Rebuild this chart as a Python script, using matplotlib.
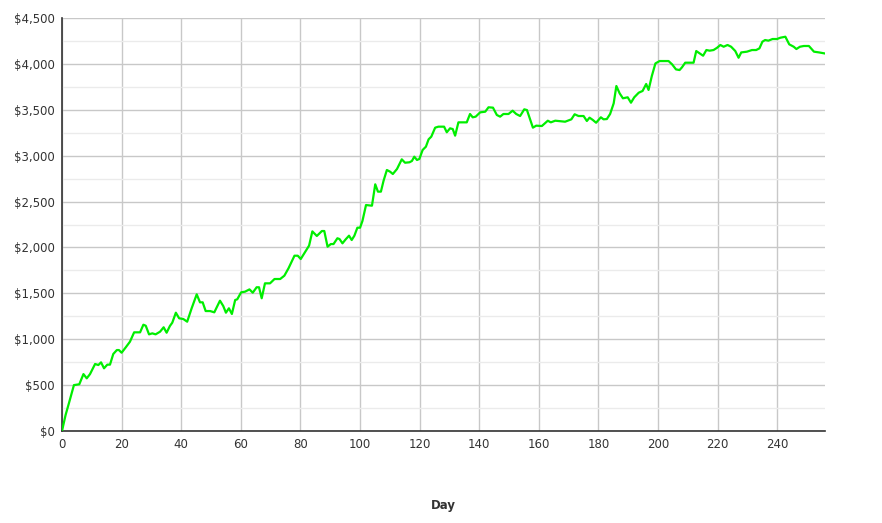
import matplotlib
matplotlib.use("Agg")
import matplotlib.pyplot as plt
from matplotlib.ticker import MultipleLocator, FuncFormatter

# ---- data ----------------------------------------------------------------------
days = [0, 1.2, 2.3, 4, 5.8, 7.2, 8.3, 9.4, 11.1, 12.2, 13.1, 14.1, 15.2, 16.1,
        17.2, 18.4, 19.1, 20.0, 21.4, 22.8, 24.2, 26.2, 27.3, 28.1, 29.2, 30.3,
        31.4, 32.9, 34.1, 35.1, 36.2, 37.0, 38.2, 39.3, 40.7, 42.0, 43.5, 45.2,
        46.3, 47.2, 48.2, 49.7, 51.1, 53.0, 54.1, 55.0, 56.0, 57.0, 58.1, 58.8,
        60.1, 61.4, 62.9, 64.0, 65.3, 66.1, 67.0, 68.1, 69.8, 71.3, 73.2, 74.6,
        76.0, 78.0, 79.1, 80.1, 81.3, 82.9, 84.0, 85.5, 87.2, 88.0, 89.1, 90.2,
        91.1, 92.4, 93.1, 94.1, 95.2, 96.3, 97.2, 98.1, 99.1, 100.0, 100.8,
        102.0, 104.0, 105.1, 106.0, 107.0, 107.9, 109.0, 110.1, 111.0, 112.4,
        114.0, 115.1, 116.6, 117.4, 118.2, 119.1, 119.9, 121.0, 122.1, 123.0,
        123.9, 125.2, 126.3, 128.2, 129.1, 130.2, 131.1, 131.9, 133.0, 134.7,
        135.8, 136.9, 137.8, 138.8, 140.3, 142.0, 143.1, 144.6, 145.9, 147.0,
        148.1, 149.8, 151.2, 152.4, 153.7, 155.1, 156.0, 158.0, 159.1, 161.0,
        163.0, 164.0, 165.5, 168.8, 170.9, 172.0, 173.3, 175.0, 176.1, 177.0,
        178.1, 179.2, 180.8, 181.7, 182.8, 183.9, 185.1, 186.0, 187.1, 188.2,
        189.8, 190.9, 192.0, 193.5, 194.8, 196.0, 196.8, 197.9, 199.1, 200.5,
        203.5, 204.7, 206.0, 207.2, 208.0, 209.1, 210.6, 211.9, 212.8, 213.9,
        215.1, 216.2, 217.3, 218.6, 219.8, 220.9, 222.0, 223.3, 224.5, 225.9,
        227.0, 227.9, 229.8, 231.5, 232.9, 234.0, 235.0, 235.9, 237.0, 238.4,
        239.9, 241.0, 242.7, 244.0, 245.5, 246.4, 247.6, 248.9, 250.6, 252.3,
        254.0, 255.7]
balance = [0, 174, 300, 500, 509, 620, 574, 620, 730, 719, 748, 683, 723, 723,
           839, 882, 882, 853, 912, 973, 1075, 1075, 1158, 1147, 1053, 1064,
           1053, 1082, 1130, 1071, 1144, 1180, 1289, 1228, 1220, 1191, 1337,
           1489, 1402, 1402, 1307, 1307, 1293, 1420, 1362, 1289, 1337, 1275,
           1427, 1435, 1511, 1518, 1543, 1507, 1566, 1566, 1446, 1609, 1609,
           1656, 1656, 1692, 1773, 1910, 1910, 1874, 1936, 2020, 2175, 2125,
           2179, 2179, 2008, 2037, 2037, 2100, 2092, 2045, 2089, 2128, 2081,
           2128, 2215, 2215, 2288, 2462, 2455, 2688, 2608, 2608, 2728, 2844,
           2825, 2800, 2855, 2960, 2923, 2928, 2942, 2989, 2953, 2964, 3062,
           3098, 3178, 3207, 3305, 3316, 3316, 3255, 3298, 3290, 3218, 3363,
           3363, 3363, 3454, 3418, 3425, 3472, 3479, 3527, 3523, 3443, 3425,
           3454, 3454, 3490, 3454, 3432, 3505, 3497, 3305, 3327, 3323, 3381,
           3363, 3381, 3370, 3396, 3451, 3432, 3432, 3378, 3414, 3389, 3359,
           3418, 3396, 3399, 3454, 3570, 3759, 3679, 3625, 3636, 3577, 3636,
           3686, 3705, 3781, 3716, 3868, 4005, 4031, 4031, 3995, 3940, 3933,
           3962, 4013, 4013, 4013, 4140, 4115, 4089, 4151, 4144, 4151, 4176,
           4206, 4187, 4206, 4187, 4140, 4067, 4125, 4133, 4151, 4151, 4169,
           4242, 4260, 4253, 4271, 4271, 4285, 4296, 4213, 4187, 4162, 4187,
           4195, 4195, 4133, 4125, 4115]

x_max = 256
y_max = 4500

fig = plt.figure(figsize=(8.82, 5.23), dpi=100)
ax = fig.add_axes([62 / 882, 1 - 431 / 523, 763 / 882, 413 / 523])

ax.plot(days, balance, color="#00ee00", lw=1.6, solid_joinstyle="round", zorder=3)

ax.set_xlim(0, x_max)
ax.set_ylim(0, y_max)
ax.xaxis.set_major_locator(MultipleLocator(20))
ax.yaxis.set_major_locator(MultipleLocator(500))
ax.yaxis.set_minor_locator(MultipleLocator(250))
ax.yaxis.set_major_formatter(FuncFormatter(lambda v, _: f"${v:,.0f}"))

ax.grid(True, which="major", color="#c8c8c8", lw=1.0, zorder=0)
ax.grid(True, which="minor", axis="y", color="#ebebeb", lw=1.0, zorder=0)
ax.set_axisbelow(True)

for side in ("top", "right"):
    ax.spines[side].set_visible(False)
for side in ("left", "bottom"):
    ax.spines[side].set_color("#333333")
    ax.spines[side].set_linewidth(1.2)

ax.tick_params(which="both", length=0, labelsize=8.5, labelcolor="#333333")
ax.tick_params(axis="y", pad=5)
ax.tick_params(axis="x", pad=5)

fig.text(443 / 882, 1 - 505 / 523, "Day", ha="center", va="center",
         fontsize=8.5, fontweight="bold", color="#333333")

fig.savefig("out.png", dpi=100)
